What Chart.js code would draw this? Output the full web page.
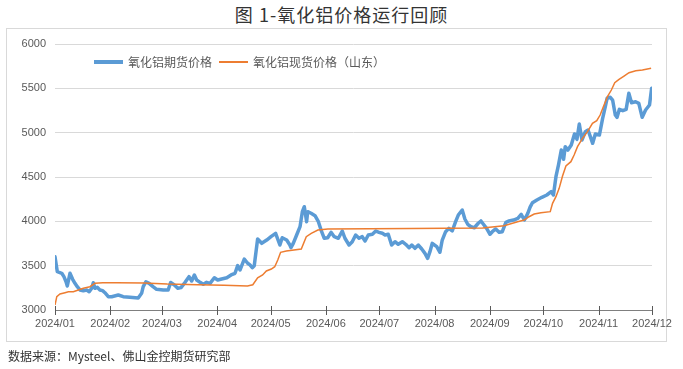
<!DOCTYPE html>
<html>
<head>
<meta charset="utf-8">
<script src="https://cdn.jsdelivr.net/npm/chart.js@4.4.1/dist/chart.umd.min.js"></script>
<style>
  html, body { margin: 0; padding: 0; background: #ffffff; }
  #wrap { position: relative; width: 683px; height: 369px; overflow: hidden; background: #fff; }
  #title { position: absolute; left: 0; width: 683px; top: 1px; text-align: center;
           font-family: "Noto Sans CJK SC", sans-serif; font-size: 18px; color: #333; letter-spacing: 1px; }
  #frame { position: absolute; left: 6px; top: 28px; width: 661px; height: 314px; border: 1px solid #d9d9d9; box-sizing: border-box; }
  #legend { position: absolute; top: 53px; left: 94px; font-family: "Noto Sans CJK SC", sans-serif; font-size: 12px; color: #595959; white-space: nowrap; }
  .item { position: absolute; top: 0; height: 18px; line-height: 18px; }
  .sw { position: absolute; top: 8px; }
  #source { position: absolute; left: 8px; top: 347px; font-family: "Noto Sans CJK SC", sans-serif; font-size: 12px; color: #333; white-space: nowrap; }
  canvas { position: absolute; left: 0; top: 0; }
</style>
</head>
<body>
<div id="wrap">
  <div id="frame"></div>
  <div id="title">图 1-氧化铝价格运行回顾</div>
  <canvas id="c" width="683" height="369"></canvas>
  <div id="legend">
    <div class="item" style="left:0"><div class="sw" style="left:0;width:29px;height:4px;top:7px;background:#5B9BD5"></div><span style="position:absolute;left:34px">氧化铝期货价格</span></div>
    <div class="item" style="left:125px"><div class="sw" style="left:0;width:29px;height:2px;background:#ED7D31"></div><span style="position:absolute;left:34px">氧化铝现货价格（山东）</span></div>
  </div>
  <div id="source">数据来源：Mysteel、佛山金控期货研究部</div>
</div>
<script>
// ---- data (x = days since 2024-01-01) ----
const monthLabels = ['2024/01','2024/02','2024/03','2024/04','2024/05','2024/06','2024/07','2024/08','2024/09','2024/10','2024/11','2024/12'];
const monthDays = [0,31,60,91,121,152,182,213,244,274,305,335];
const yTicks = [3000,3500,4000,4500,5000,5500,6000];

const futDay = [0,1.3,3.8,5,6.2,6.9,8.4,9.9,11.2,12.5,14,15.9,17.8,19.2,20.6,21.5,22.4,23.7,25.2,26.7,28,29.9,31.8,35.5,38.3,42,46.7,48.6,49.5,51,52.8,55,57,60.7,63.5,64.9,67,68.9,70.7,73,75.2,76.7,78.2,79.5,81.4,83.2,85.1,87,89.4,91.3,93.5,96.4,98.8,101,102.5,103.8,106.2,108.1,109.4,110.7,111.8,113.7,116,118.8,121.2,123.8,126.2,127.5,130,131.8,132.4,133.7,135.6,137.5,138.8,139.9,141.2,141.8,143.7,145.9,147.8,149.3,151.1,153,154.9,156.7,159,161.2,162.7,165,166.8,168.7,170.6,172.4,174,175.8,178.1,180,181.8,183.7,185.2,187,188.9,190.8,192.6,194.9,196.8,198.7,200.2,202,203.9,205.8,207.6,209.1,210.4,211.7,214.2,216,217.3,219.2,221,222.9,224.8,226.3,228.5,230,231.6,233.4,235.3,237.5,239,240.4,242.2,244.1,245.4,247.3,249.2,251,253,254.8,257.3,259.7,261.6,263.4,265.3,266.6,267.9,270.4,273.2,276,278.4,279.7,281.1,282.5,284.1,285.4,286.3,287.8,289.7,291.5,292.9,294.2,295.7,297.6,299.1,300.4,301.7,303.2,305.5,307.3,308.8,309.8,311.6,312.9,314.4,315.4,316.7,318.6,320.5,322,323.5,325.8,327.6,329.5,331.4,333.6,334.8];
const futPrice = [3601,3432,3414,3376,3319,3271,3414,3346,3301,3263,3226,3218,3226,3206,3245,3308,3245,3256,3226,3218,3195,3150,3150,3169,3150,3143,3135,3188,3263,3319,3301,3263,3233,3226,3225,3310,3282,3245,3252,3312,3376,3327,3395,3338,3312,3290,3312,3301,3364,3338,3350,3364,3395,3414,3500,3451,3575,3527,3508,3477,3500,3801,3752,3789,3827,3865,3733,3815,3789,3733,3703,3752,3846,3940,4109,4165,3996,4109,4091,4064,3996,3902,3809,3815,3876,3827,3809,3891,3809,3733,3770,3846,3809,3827,3778,3846,3854,3891,3876,3865,3846,3854,3733,3770,3741,3770,3741,3703,3733,3696,3733,3688,3639,3583,3658,3752,3714,3651,3789,3883,3921,3891,3996,4071,4128,4026,3967,3939,3928,3978,4004,3967,3921,3854,3883,3914,3876,3883,3989,4004,4015,4034,4079,4015,4090,4160,4210,4241,4271,4297,4334,4297,4503,4635,4804,4700,4842,4804,4861,4985,4925,5098,4917,5011,5030,4955,4880,4985,4974,5162,5293,5388,5399,5368,5199,5173,5263,5248,5263,5444,5338,5349,5331,5173,5256,5312,5500];

const spotDay = [0,1,2.8,5.6,7.5,10.3,13.1,15.9,19.6,22.4,26.9,34.6,50,63,80,95,108,111,113.7,116.5,118.6,121.4,123.3,125,126.6,129.8,138.2,141,143.8,147.5,153.1,200,240,252,259.6,263.3,266,268.9,272.7,277.9,279.2,281.1,282.9,284.8,286.7,289.5,291.3,293.2,296,298.8,301.6,304,305.9,307.7,310,312.2,314.1,316.5,319.3,322.1,325.9,329.6,334.5];
const spotPrice = [3056,3150,3180,3195,3206,3206,3226,3245,3263,3301,3308,3308,3305,3293,3285,3278,3272,3285,3364,3395,3440,3462,3488,3564,3651,3665,3688,3827,3865,3902,3914,3918,3925,3951,3996,4015,4052,4083,4097,4109,4203,4278,4372,4511,4624,4673,4748,4842,4936,5011,5106,5135,5199,5293,5406,5481,5564,5602,5639,5676,5699,5707,5726];

const futPts = futDay.map((d, i) => ({ x: d, y: futPrice[i] }));
const spotPts = spotDay.map((d, i) => ({ x: d, y: spotPrice[i] }));

const crossTicks = {
  id: 'crossTicks',
  afterDraw(chart) {
    const xs = chart.scales.x, ctx = chart.ctx;
    const y0 = chart.chartArea.bottom;
    ctx.save();
    ctx.strokeStyle = '#595959';
    ctx.lineWidth = 1;
    ctx.beginPath();
    xs.ticks.forEach(t => {
      const px = Math.round(xs.getPixelForValue(t.value)) + 0.5;
      ctx.moveTo(px, y0 - 4);
      ctx.lineTo(px, y0 + 5);
    });
    ctx.stroke();
    ctx.restore();
  }
};

new Chart(document.getElementById('c'), {
  type: 'line',
  data: {
    datasets: [
      { label: '氧化铝期货价格', data: futPts, borderColor: '#5B9BD5', borderWidth: 3.5, pointRadius: 0, tension: 0, order: 1, borderJoinStyle: 'round', borderCapStyle: 'round' },
      { label: '氧化铝现货价格（山东）', data: spotPts, borderColor: '#ED7D31', borderWidth: 1.5, pointRadius: 0, tension: 0, order: 0 }
    ]
  },
  options: {
    responsive: false,
    animation: false,
    events: [],
    layout: { padding: { left: 0, right: 31, top: 44, bottom: 0 } },
    plugins: { legend: { display: false }, tooltip: { enabled: false } },
    scales: {
      x: {
        type: 'linear', min: 0, max: 335,
        afterBuildTicks: s => { s.ticks = monthDays.map(v => ({ value: v })); },
        afterFit: s => { s.height = 59; },
        ticks: { autoSkip: false, maxRotation: 0, padding: 7, color: '#595959',
                 font: { family: 'Liberation Sans', size: 11 },
                 callback: (v, i) => monthLabels[i] },
        grid: { display: true, drawOnChartArea: false, drawTicks: false },
        border: { display: true, color: '#7f7f7f', width: 1 }
      },
      y: {
        min: 3000, max: 6000,
        afterBuildTicks: s => { s.ticks = yTicks.map(v => ({ value: v })); },
        afterFit: s => { s.width = 55; },
        ticks: { padding: 9, color: '#595959', font: { family: 'Liberation Sans', size: 11 },
                 callback: v => String(v) },
        grid: { color: '#d9d9d9', drawTicks: false },
        border: { display: false }
      }
    }
  },
  plugins: [crossTicks]
});
</script>
</body>
</html>
